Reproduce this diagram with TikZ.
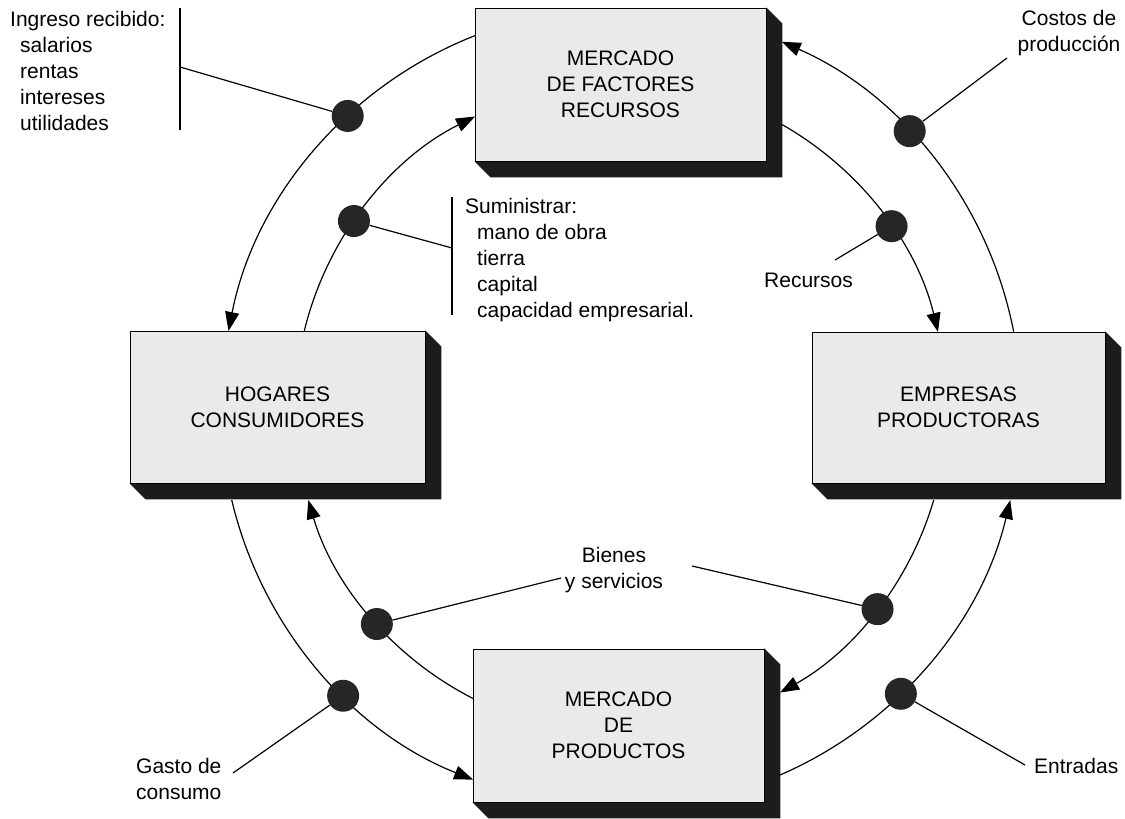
\documentclass[tikz,border=0pt]{standalone}
\usepackage{fontspec}
\setmainfont{Liberation Sans}
\usetikzlibrary{arrows.meta,backgrounds,calc}
\definecolor{boxgray}{RGB}{234,234,234}
\definecolor{shadec}{RGB}{28,28,28}
\definecolor{dotc}{RGB}{38,38,38}
\begin{document}
\begin{tikzpicture}[x=1pt,y=-1pt,
  box/.style={draw=black, line width=0.9pt, fill=boxgray, inner sep=0pt, align=center,
    font=\fontsize{21}{26}\selectfont},
  lbl/.style={inner sep=0pt, font=\fontsize{21}{26}\selectfont},
  flow/.style={line width=1.2pt, -{Triangle[length=19pt,width=14pt]}},
  leader/.style={line width=1.2pt},
  bar/.style={line width=1.2pt},
  dot/.style={circle, fill=dotc, minimum size=32pt, inner sep=0pt}]
\useasboundingbox (0,0) rectangle (1125,819);
\coordinate (O) at (621,408);
% boxes
\node[box, minimum width=291pt, minimum height=153pt] (top) at (620.5,84.5) {MERCADO\\DE FACTORES\\RECURSOS};
\node[box, minimum width=295pt, minimum height=152pt] (hog) at (277.5,407) {HOGARES\\CONSUMIDORES};
\node[box, minimum width=293pt, minimum height=151pt] (emp) at (958.5,407.5) {EMPRESAS\\PRODUCTORAS};
\node[box, minimum width=291pt, minimum height=153pt] (bot) at (618.5,725.5) {MERCADO\\DE\\PRODUCTOS};
\begin{scope}[on background layer]
\foreach \n in {top,hog,emp,bot}
  \fill[shadec] (\n.north east) -- ++(16,16) -- ($(\n.south east)+(16,16)$)
     -- ($(\n.south west)+(16,16)$) -- (\n.south west) -- cycle;
\end{scope}
% flows
\draw[flow] ($(O)+(248.6:400)$) arc[start angle=248.6, end angle=191.1, radius=400];
\draw[flow] ($(O)+(193.7:326)$) arc[start angle=193.7, end angle=243.4, radius=326];
\draw[flow] ($(O)+(349:400)$) arc[start angle=349, end angle=293.7, radius=400];
\draw[flow] ($(O)+(299.6:326)$) arc[start angle=299.6, end angle=346.5, radius=326];
\draw[flow] ($(O)+(16.4:326)$) arc[start angle=16.4, end angle=60.8, radius=326];
\draw[flow] ($(O)+(66.6:400)$) arc[start angle=66.6, end angle=13.3, radius=400];
\draw[flow] ($(O)+(117:326)$) arc[start angle=117, end angle=163.6, radius=326];
\draw[flow] ($(O)+(166.7:400)$) arc[start angle=166.7, end angle=111.7, radius=400];
% dots
\node[dot] (dA) at ($(O)+(226.9:400)$) {};
\node[dot] (dB) at ($(O)+(215:326)$) {};
\node[dot] (dC) at ($(O)+(316.2:400)$) {};
\node[dot] (dD) at ($(O)+(326.1:326)$) {};
\node[dot] (dE) at ($(O)+(138.5:326)$) {};
\node[dot] (dF) at ($(O)+(38.1:326)$) {};
\node[dot] (dG) at ($(O)+(134:400)$) {};
\node[dot] (dH) at ($(O)+(45.6:400)$) {};
% labels
\node[lbl, anchor=north west, align=left] (ing) at (10,11)
  {Ingreso recibido:\\\hspace*{10pt}salarios\\\hspace*{10pt}rentas\\\hspace*{10pt}intereses\\\hspace*{10pt}utilidades};
\coordinate (ingT) at (180,8); \coordinate (ingB) at (180,130); \coordinate (ingL) at (180,67);
\draw[bar] (ingT) -- (ingB);
\draw[leader] (ingL) -- (dA);
\node[lbl, anchor=north west, align=left] (sum) at (465,198)
  {Suministrar:\\\hspace*{12pt}mano de obra\\\hspace*{12pt}tierra\\\hspace*{12pt}capital\\\hspace*{12pt}capacidad empresarial.};
\coordinate (sumT) at (452,197); \coordinate (sumB) at (452,315); \coordinate (sumL) at (452,248);
\draw[bar] (sumT) -- (sumB);
\draw[leader] (sumL) -- (dB);
\node[lbl, anchor=north, align=center] (cos) at (1069,10) {Costos de\\producción};
\coordinate (cosL) at (1007,58);
\draw[leader] (cosL) -- (dC);
\node[lbl, anchor=base west] (rec) at (764,287) {Recursos};
\coordinate (recL) at (835,260);
\draw[leader] (recL) -- (dD);
\node[lbl, anchor=north, align=center] (bie) at (614,547) {Bienes\\y servicios};
\coordinate (bieL) at (561,578); \coordinate (bieR) at (692,566);
\draw[leader] (bieL) -- (dE);
\draw[leader] (bieR) -- (dF);
\node[lbl, anchor=north west, align=left] (gas) at (136,758) {Gasto de\\consumo};
\coordinate (gasL) at (233,773);
\draw[leader] (gasL) -- (dG);
\node[lbl, anchor=base west] (ent) at (1034,773) {Entradas};
\coordinate (entL) at (1025,765);
\draw[leader] (entL) -- (dH);
\end{tikzpicture}
\end{document}
